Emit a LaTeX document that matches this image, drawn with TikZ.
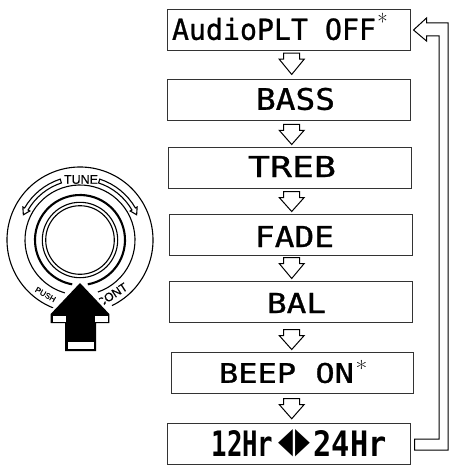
\documentclass[tikz,border=0pt]{standalone}
\usepackage{fontspec}
\usepackage{graphicx}
\usetikzlibrary{calc}
\newfontfamily\lcdfont[FakeBold=0.9]{DejaVu Sans Mono}
\newfontfamily\lcdheavy{DejaVu Sans Mono Bold}
\newfontfamily\labelfont[FakeBold=0.3]{Liberation Sans}
\newfontfamily\symfont{DejaVu Sans}
\newcommand{\lcdfit}[3]{\resizebox{#1pt}{#2pt}{\fontsize{30}{30}\lcdfont #3}}
\newcommand{\lcdstar}[1]{\rlap{\kern 1.5pt\raisebox{#1pt}[0pt][0pt]{\fontsize{24}{24}\rmfamily *}}}
\newcommand{\hollowarrow}[4]{%
  \draw[hollow] let \p1=(#1.south), \p2=(#2.north) in
    (291.7pt-8pt,\y1-#3pt) -- (291.7pt+8pt,\y1-#3pt) -- (291.7pt+8pt,\y1-#3pt-6pt)
    -- (291.7pt+12.5pt,\y1-#3pt-6pt) -- (291.7pt,\y2+#4pt)
    -- (291.7pt-12.5pt,\y1-#3pt-6pt) -- (291.7pt-8pt,\y1-#3pt-6pt) -- cycle;}
\tikzset{
  menubox/.style={draw=black!80,line width=1pt,fill=white,inner sep=0pt,minimum width=242.5pt,minimum height=41pt},
  lcdtext/.style={inner sep=0pt,text=black},
  hollow/.style={draw=black,line width=1pt,fill=white,line join=miter},
  ring/.style={draw=black,line width=1.1pt},
  ringthick/.style={draw=black,line width=2.1pt},
  knoblabel/.style={inner sep=0pt,text=black},
}
\begin{document}
\begin{tikzpicture}[x=1pt,y=-1pt]
\useasboundingbox (0,0) rectangle (450,468);
% menu boxes
\node[menubox] (b1) at (288.75,30) {};
\node[menubox] (b2) at (288.75,100.25) {};
\node[menubox] (b3) at (289.75,167.5) {};
\node[menubox] (b4) at (290.75,235) {};
\node[menubox] (b5) at (290.75,301.5) {};
\node[menubox] (b6) at (292.25,372.5) {};
\node[menubox] (b7) at (288.75,444.25) {};
% labels
\node[lcdtext] (t1) at (274,29) {\lcdfit{204}{22}{AudioPLT OFF\lcdstar{10}}};
\node[lcdtext] (t2) at (295.5,99) {\lcdfit{79}{22}{BASS}};
\node[lcdtext] (t3) at (292,166.5) {\lcdfit{88}{21}{TREB}};
\node[lcdtext] (t4) at (294.5,236.5) {\lcdfit{79}{21}{FADE}};
\node[lcdtext] (t5) at (296.5,303) {\lcdfit{59}{20}{BAL}};
\node[lcdtext] (t6) at (286.5,373) {\lcdfit{135}{20}{BEEP ON\lcdstar{7}}};
\node[lcdtext] (t7a) at (242.5,443.5) {\resizebox{62pt}{26pt}{\fontsize{30}{30}\lcdheavy 12Hr}};
\node[lcdtext] (t7b) at (294,443.5) {\resizebox{32pt}{23pt}{\symfont ◀\kern 0.12em▶}};
\node[lcdtext] (t7c) at (350,443.5) {\resizebox{73pt}{26pt}{\fontsize{30}{30}\lcdheavy 24Hr}};
% hollow step arrows
\hollowarrow{b1}{b2}{2.2}{4.8}
\hollowarrow{b2}{b3}{3}{2}
\hollowarrow{b3}{b4}{3}{2.5}
\hollowarrow{b4}{b5}{1.5}{2}
\hollowarrow{b5}{b6}{7}{2}
\hollowarrow{b6}{b7}{5}{4.5}
% return arrow
\draw[hollow] let \p1=(b7.east), \p2=(b1.east) in
  (\x2+3pt,\y2) -- (\x2+16pt,\y2+12pt) -- (\x2+16pt,\y2+7pt) -- (448pt,\y2+7pt)
  -- (448pt,\y1-5.75pt) -- (\x1+4pt,\y1-5.75pt) -- (\x1+4pt,\y1+5.25pt)
  -- (439pt,\y1+5.25pt) -- (439pt,\y2-6pt) -- (\x2+16pt,\y2-6pt) -- (\x2+16pt,\y2-11pt) -- cycle;
% knob
\begin{scope}[shift={(80,240)},x=1pt,y=1pt]
  \draw[ring] (-64:73) arc[start angle=-64,end angle=253,radius=73];
  \draw[ring] (-71:55) arc[start angle=-71,end angle=254,radius=55];
  \draw[ringthick] (-80:45) arc[start angle=-80,end angle=260,radius=45];
  \draw[ring] (0,0) circle[radius=37.7];
  \draw[ring] (0,0) circle[radius=34.3];
  \draw[ring,fill=white,line join=miter] (108:64) arc[start angle=108,end angle=150,radius=64]
    -- (150:66) -- (156:62) -- (150:58) -- (150:60) arc[start angle=150,end angle=108,radius=60] -- cycle;
  \draw[ring,fill=white,line join=miter] (72:64) arc[start angle=72,end angle=30,radius=64]
    -- (30:66) -- (24:62) -- (30:58) -- (30:60) arc[start angle=30,end angle=72,radius=60] -- cycle;
\end{scope}
\node[knoblabel] (tune) at (81,179.5) {\fontsize{12.5}{12.5}\labelfont TUNE};
\node[knoblabel,rotate=-30] (push) at (45.5,294.5) {\fontsize{8}{8}\labelfont PUSH};
\node[knoblabel,rotate=33] (cont) at (112,295) {\fontsize{12}{12}\labelfont CONT};
% black push arrow
\path[draw=white,line width=5pt,line join=miter]
  (80,283) -- (109.3,314) -- (109.3,323) -- (96,323) -- (96,351) -- (65,351) -- (65,323) -- (50.7,323) -- (50.7,314) -- cycle;
\fill[black] (80,283) -- (109.3,314) -- (109.3,323) -- (96,323) -- (96,351) -- (65,351) -- (65,323) -- (50.7,323) -- (50.7,314) -- cycle;
\fill[white] (52.5,316) rectangle (66,322);
\fill[white] (95,316) rectangle (108,322);
\fill[white] (68,342) rectangle (94,349);
\end{tikzpicture}
\end{document}
